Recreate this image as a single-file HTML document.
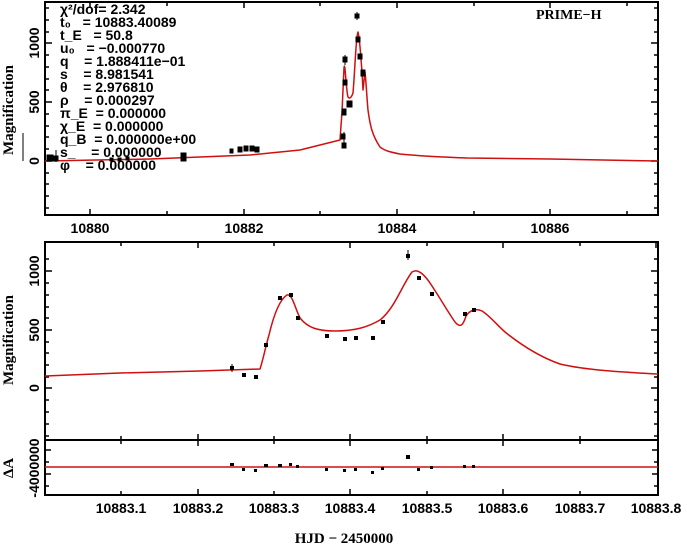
<!DOCTYPE html>
<html><head><meta charset="utf-8"><style>
body{margin:0;background:#fff;}
svg{display:block;font-family:"Liberation Sans",sans-serif;font-weight:bold;}
</style></head><body>
<svg width="687" height="546" viewBox="0 0 687 546" xmlns="http://www.w3.org/2000/svg">
<g fill="none" stroke="#000" stroke-width="2">
<rect x="45" y="2" width="613" height="213"/>
<rect x="45" y="242" width="613" height="198"/>
<rect x="45" y="440" width="613" height="55"/>
</g>
<g stroke="#000" stroke-width="1.5">
<path d="M90 215v-6M167 215v-4M244 215v-6M320 215v-4M397 215v-6M474 215v-4M550 215v-6M627 215v-4M90 2v6M167 2v4M244 2v6M320 2v4M397 2v6M474 2v4M550 2v6M627 2v4"/>
<path d="M45 43h7M45 102h7M45 161h7M45 55h4M45 67h4M45 79h4M45 90h4M45 114h4M45 126h4M45 137h4M45 149h4M45 173h4M45 184h4M45 196h4M45 208h4M45 32h4M45 20h4M45 8h4"/>
<path d="M658 43h-7M658 102h-7M658 161h-7M658 55h-4M658 67h-4M658 79h-4M658 90h-4M658 114h-4M658 126h-4M658 137h-4M658 149h-4M658 173h-4M658 184h-4M658 196h-4M658 208h-4M658 32h-4M658 20h-4M658 8h-4"/>
<path d="M121 242v4M198 242v6M274 242v4M350 242v6M427 242v4M503 242v6M580 242v4M656 242v6M121 440v-4M198 440v-6M274 440v-4M350 440v-6M427 440v-4M503 440v-6M580 440v-4"/>
<path d="M121 495v-4M198 495v-6M274 495v-4M350 495v-6M427 495v-4M503 495v-6M580 495v-4M121 440v4M198 440v6M274 440v4M350 440v6M427 440v4M503 440v6M580 440v4"/>
<path d="M45 271h7M45 330h7M45 388h7M45 259h4M45 283h4M45 295h4M45 307h4M45 318h4M45 342h4M45 353h4M45 365h4M45 377h4M45 400h4M45 412h4M45 424h4M45 436h4"/>
<path d="M658 271h-7M658 330h-7M658 388h-7M658 259h-4M658 283h-4M658 295h-4M658 307h-4M658 318h-4M658 342h-4M658 353h-4M658 365h-4M658 377h-4M658 400h-4M658 412h-4M658 424h-4M658 436h-4"/>
<path d="M45 450h6M45 462h4M45 474h6M45 486h4M658 450h-6M658 462h-4M658 474h-6M658 486h-4"/>
</g>
<g font-size="14" fill="#000" text-anchor="middle">
<text x="90" y="233">10880</text><text x="244" y="233">10882</text><text x="397" y="233">10884</text><text x="550" y="233">10886</text>
<text x="121" y="513">10883.1</text><text x="198" y="513">10883.2</text><text x="274" y="513">10883.3</text><text x="350" y="513">10883.4</text><text x="427" y="513">10883.5</text><text x="503" y="513">10883.6</text><text x="580" y="513">10883.7</text><text x="656" y="513">10883.8</text>
<text x="344" y="543" font-family="Liberation Serif" font-size="15">HJD − 2450000</text>
</g>
<g font-size="14" fill="#000" text-anchor="middle">
<text transform="translate(39,43) rotate(-90)">1000</text>
<text transform="translate(39,102) rotate(-90)">500</text>
<text transform="translate(39,161) rotate(-90)">0</text>
<text transform="translate(39,271) rotate(-90)">1000</text>
<text transform="translate(39,330) rotate(-90)">500</text>
<text transform="translate(39,388) rotate(-90)">0</text>
<text transform="translate(39,468) rotate(-90)">-4000000</text>
<text font-family="Liberation Serif" font-size="15" transform="translate(13,110) rotate(-90)">Magnification</text>
<text font-family="Liberation Serif" font-size="15" transform="translate(13,340) rotate(-90)">Magnification</text>
<text font-family="Liberation Serif" font-size="15" transform="translate(13,468) rotate(-90)">ΔA</text>
</g>
<text x="536" y="19" font-size="14" font-family="Liberation Serif" fill="#000">PRIME−H</text>
<g font-size="14" fill="#000">
<text x="60" y="14">χ²/dof= 2.342</text>
<text x="60" y="27">t₀ &#160;&#160;= 10883.40089</text>
<text x="60" y="40">t_E &#160;&#160;= 50.8</text>
<text x="60" y="53">u₀ &#160;&#160;= −0.000770</text>
<text x="60" y="66">q &#160;&#160;&#160;= 1.888411e−01</text>
<text x="60" y="79">s &#160;&#160;&#160;= 8.981541</text>
<text x="60" y="92">θ &#160;&#160;&#160;= 2.976810</text>
<text x="60" y="105">ρ &#160;&#160;&#160;= 0.000297</text>
<text x="60" y="118">π_E &#160;= 0.000000</text>
<text x="60" y="131">χ_E &#160;= 0.000000</text>
<text x="60" y="144">q_B &#160;= 0.000000e+00</text>
<text x="60" y="157">s_ &#160;&#160;&#160;= 0.000000</text>
<text x="60" y="170">φ &#160;&#160;&#160;= 0.000000</text>
</g>
<g fill="none" stroke="#d01010" stroke-width="1.5" stroke-linejoin="round">
<path d="M45 161 L150 159 L250 155 L300 150 L340 140 L342 112 L344 68 C345 58 346 90 348 97 C350 100 352 96 353 93 C355 70 356 35 358 32 C360 40 361 60 362 72 L363 90 L365 72 C366 80 367 100 368 110 C370 125 372 135 380 147 C385 151 390 152 400 154 C420 156 440 157 467 158 L550 159 L658 161"/>
<path d="M45 376 L120 373 L200 371 L260 369 C263 360 266 345 269 335 C273 318 279 300 287 295 C292 293 295 308 300 318 C308 328 318 331 335 331 C355 331 368 327 380 320 C395 308 402 285 412 272 C418 268 425 275 432 286 C440 298 448 312 455 322 C460 328 463 326 466 316 C470 310 476 308 482 311 C490 316 497 325 505 332 C520 344 540 357 560 364 C585 370 620 372 658 374"/>
<line x1="45" y1="467" x2="658" y2="467"/>
</g>
<g fill="#000" stroke="#000" stroke-width="1">
<path d="M23 133v28M56 150v12M344 132v12M345 55v10M357 12v8M232 364v8M408 250v10"/>
<rect x="47" y="155" width="6" height="6"/><rect x="54" y="156" width="4" height="5"/>
<rect x="110" y="158" width="3" height="3"/><rect x="118" y="158" width="3" height="3"/><rect x="126" y="157" width="3" height="3"/>
<rect x="181" y="153" width="5" height="8"/>
<rect x="230" y="149" width="3" height="4"/><rect x="238" y="147" width="4" height="5"/><rect x="244" y="146" width="4" height="5"/><rect x="250" y="146" width="4" height="5"/><rect x="255" y="147" width="4" height="5"/>
<rect x="341" y="134" width="4" height="5"/><rect x="342" y="143" width="4" height="5"/>
<rect x="342" y="109" width="4" height="6"/><rect x="343" y="57" width="4" height="5"/><rect x="343" y="80" width="4" height="5"/>
<rect x="347" y="101" width="5" height="6"/><rect x="355" y="14" width="4" height="4"/><rect x="356" y="37" width="4" height="5"/><rect x="358" y="54" width="4" height="5"/><rect x="361" y="70" width="4" height="6"/>
</g>
<g fill="#000">
<rect x="230" y="366" width="4" height="4"/><rect x="242" y="373" width="4" height="4"/><rect x="254" y="375" width="4" height="4"/><rect x="264" y="343" width="4" height="4"/><rect x="278" y="296" width="4" height="4"/><rect x="289" y="293" width="4" height="4"/><rect x="296" y="316" width="4" height="4"/><rect x="325" y="334" width="4" height="4"/><rect x="343" y="337" width="4" height="4"/><rect x="354" y="336" width="4" height="4"/><rect x="371" y="336" width="4" height="4"/><rect x="381" y="320" width="4" height="4"/><rect x="406" y="254" width="4" height="4"/><rect x="417" y="276" width="4" height="4"/><rect x="430" y="292" width="4" height="4"/><rect x="463" y="312" width="4" height="4"/><rect x="472" y="308" width="4" height="4"/>
<rect x="230" y="463" width="4" height="3"/><rect x="242" y="468" width="3" height="3"/><rect x="254" y="469" width="3" height="3"/><rect x="264" y="464" width="4" height="3"/><rect x="278" y="464" width="4" height="3"/><rect x="289" y="463" width="3" height="3"/><rect x="296" y="465" width="3" height="3"/><rect x="325" y="468" width="3" height="3"/><rect x="343" y="469" width="3" height="3"/><rect x="354" y="468" width="3" height="3"/><rect x="371" y="471" width="3" height="3"/><rect x="381" y="467" width="3" height="3"/><rect x="406" y="455" width="4" height="4"/><rect x="417" y="468" width="3" height="3"/><rect x="430" y="466" width="3" height="3"/><rect x="463" y="465" width="3" height="3"/><rect x="472" y="465" width="3" height="3"/>
</g>
</svg>
</body></html>
